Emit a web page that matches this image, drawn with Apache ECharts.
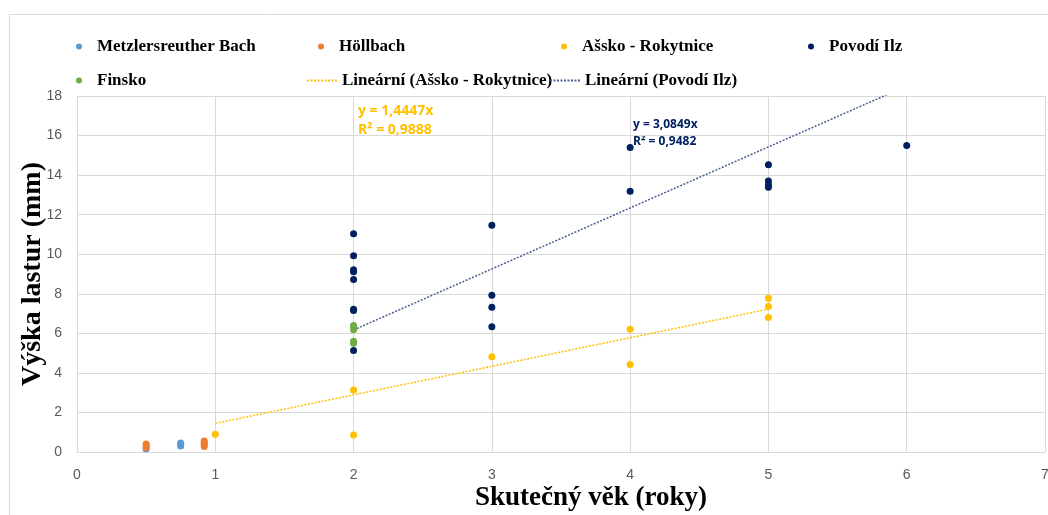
<!DOCTYPE html>
<html><head><meta charset="utf-8">
<script src="https://cdn.jsdelivr.net/npm/echarts@6/dist/echarts.min.js"></script>
<style>html,body{margin:0;padding:0;background:#fff}#c{width:1048px;height:515px}</style>
</head><body><div id="c"></div>
<script>
// ---- data ----
const metzlersreuther = [[0.5,0.15],[0.75,0.3],[0.75,0.38],[0.75,0.45]];
const hollbach = [[0.5,0.22],[0.5,0.3],[0.5,0.4],[0.92,0.28],[0.92,0.38],[0.92,0.48],[0.92,0.56]];
const assko = [[1,0.9],[2,3.13],[2,0.86],[3,4.81],[4,6.21],[4,4.43],[5,7.78],[5,7.36],[5,6.8]];
const povodiIlz = [[2,11.03],[2,9.92],[2,9.22],[2,9.12],[2,8.72],[2,7.22],[2,7.15],[2,5.13],
  [3,11.46],[3,7.93],[3,7.32],[3,6.33],[4,15.39],[4,13.18],[5,14.53],[5,13.7],[5,13.5],[5,13.38],[6,15.5]];
const finsko = [[2,6.4],[2,6.3],[2,6.18],[2,5.6],[2,5.5]];
const asskoSlope = 1.4447, asskoR2 = 0.9888, asskoRange = [1,5];
const ilzSlope = 3.0849, ilzR2 = 0.9482, ilzRange = [2,6];
const xTicks = [0,1,2,3,4,5,6,7];
const yTicks = [0,2,4,6,8,10,12,14,16,18];
const fmt = v => v.toFixed(4).replace('.', ',');

const serif = "'Liberation Serif','Times New Roman',serif";
const C = {m:'#5B9BD5', h:'#ED7D31', a:'#FFC000', p:'#002060', f:'#70AD47'};

const chart = echarts.init(document.getElementById('c'));
const sc = (name, data, color) => ({
  name, type:'scatter', data, symbolSize:7, itemStyle:{color, opacity:1}, z:3
});
const trend = (name, slope, range, color) => ({
  name, type:'line', data: range.map(x => [x, slope*x]), symbol:'none', showSymbol:false, clip:true,
  lineStyle:{color, width:1.5, type:[2,1.5]}, itemStyle:{color}, z:2, silent:true
});
const legTxt = {fontFamily:serif, fontWeight:'bold', fontSize:17, color:'#000'};
const leg = (name, left, top, line) => {
  const o = {
    data:[name], left, top, itemWidth: line ? 30 : 6, itemHeight: 7, itemGap:0,
    textStyle:Object.assign({padding:[0,0,0, line ? 0 : 10]}, legTxt), selectedMode:false, padding:0
  };
  if (line) o.itemStyle = {opacity:0};
  return o;
};
chart.setOption({
  animation:false,
  legend:[
    leg('Metzlersreuther Bach', 76, 38),
    leg('Höllbach', 318, 38),
    leg('Ašsko - Rokytnice', 561, 38),
    leg('Povodí Ilz', 808, 38),
    leg('Finsko', 76, 72),
    leg('Lineární (Ašsko - Rokytnice)', 306, 72, true),
    leg('Lineární (Povodí Ilz)', 549, 72, true)
  ],
  grid:{left:77, right:3, top:96, bottom:63, containLabel:false, outerBoundsMode:'none'},
  xAxis:{type:'value', min:0, max:7, interval:1,
    axisLine:{show:true, lineStyle:{color:'#d9d9d9'}}, axisTick:{show:false},
    splitLine:{show:true, lineStyle:{color:'#d9d9d9', width:1}},
    axisLabel:{color:'#595959', fontSize:14, fontFamily:"'Liberation Sans',sans-serif", margin:16,
      formatter: v => xTicks.includes(v) ? String(v) : ''},
    name:'Skutečný věk (roky)', nameLocation:'middle', nameGap:33, nameMoveOverlap:false,
    nameTextStyle:{fontFamily:serif, fontWeight:'bold', fontSize:27, color:'#000', verticalAlign:'top', padding:[0,0,0,60]}},
  yAxis:{type:'value', min:0, max:18, interval:2,
    axisLine:{show:false}, axisTick:{show:false},
    splitLine:{show:true, lineStyle:{color:'#d9d9d9', width:1}},
    axisLabel:{color:'#595959', fontSize:14, fontFamily:"'Liberation Sans',sans-serif", margin:15,
      formatter: v => yTicks.includes(v) ? String(v) : ''},
    name:'Výška lastur (mm)', nameLocation:'middle', nameGap:30, nameRotate:90, nameMoveOverlap:false,
    nameTextStyle:{fontFamily:serif, fontWeight:'bold', fontSize:28, color:'#000', verticalAlign:'bottom'}},
  series:[
    sc('Metzlersreuther Bach', metzlersreuther, C.m),
    sc('Höllbach', hollbach, C.h),
    sc('Ašsko - Rokytnice', assko, C.a),
    sc('Povodí Ilz', povodiIlz, C.p),
    sc('Finsko', finsko, C.f),
    trend('Lineární (Ašsko - Rokytnice)', asskoSlope, asskoRange, C.a),
    trend('Lineární (Povodí Ilz)', ilzSlope, ilzRange, '#4a5f8f')
  ],
  graphic:[
    {type:'text', left:358, top:102, style:{text:'y = ' + fmt(asskoSlope) + 'x\nR² = ' + fmt(asskoR2),
      fill:C.a, font:"bold 14px 'Open Sans', sans-serif", lineHeight:19}},
    {type:'text', left:633, top:116, style:{text:'y = ' + fmt(ilzSlope) + 'x\nR² = ' + fmt(ilzR2),
      fill:C.p, font:"bold 12px 'Open Sans', sans-serif", lineHeight:17}},
    {type:'rect', left:7, top:12, shape:{width:1100, height:600}, style:{fill:'none', stroke:'#d9d9d9', lineWidth:1}, silent:true}
  ]
});
</script></body></html>
